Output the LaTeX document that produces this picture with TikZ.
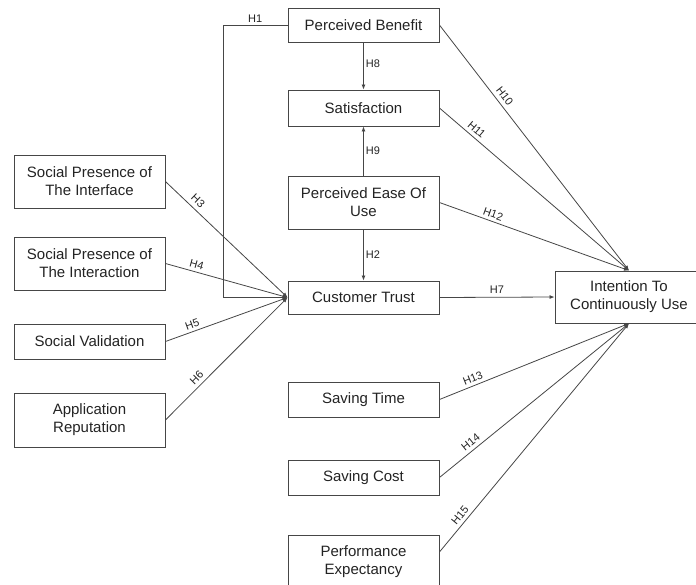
\documentclass[tikz,border=0pt]{standalone}
\usepackage{fontspec}
\setmainfont{Liberation Sans}
\usetikzlibrary{arrows.meta}

\definecolor{linegray}{RGB}{70,70,70}
\definecolor{textgray}{RGB}{35,35,35}

\tikzset{
    box/.style={draw=linegray, rectangle, line width=0.9pt, minimum width=151pt,
        inner sep=0pt, align=center, text=textgray,
        font=\fontsize{15}{18}\selectfont},
    hyp/.style={draw=linegray, line width=0.8pt, -{Latex[length=5pt,width=4pt]}},
    lbl/.style={text=textgray, font=\fontsize{11}{12}\selectfont, inner sep=2pt}
}

\begin{document}
\begin{tikzpicture}[x=1pt, y=-1pt]
    \useasboundingbox (0,0) rectangle (696,584);

    % Middle column
    \node[box, minimum height=34pt] (benefit) at (363.5,25) {Perceived Benefit};
    \node[box, minimum height=36pt] (satisf) at (363.5,108) {Satisfaction};
    \node[box, minimum height=53pt] (ease) at (363.5,202.5) {Perceived Ease Of\\ Use};
    \node[box, minimum height=33pt] (trust) at (363.5,297.5) {Customer Trust};
    \node[box, minimum height=35pt] (time) at (363.5,399.5) {Saving Time};
    \node[box, minimum height=35pt] (cost) at (363.5,477.5) {Saving Cost};
    \node[box, minimum height=54pt] (perf) at (363.5,562) {Performance\\ Expectancy};

    % Left column
    \node[box, minimum height=53pt] (face) at (89.5,181.5) {Social Presence of\\ The Interface};
    \node[box, minimum height=53pt] (action) at (89.5,263.5) {Social Presence of\\ The Interaction};
    \node[box, minimum height=35pt] (valid) at (89.5,341.5) {Social Validation};
    \node[box, minimum height=54pt] (reput) at (89.5,420) {Application\\ Reputation};

    % Outcome
    \node[box, minimum width=148pt, minimum height=52pt] (intent) at (629,297) {Intention To\\ Continuously Use};

    % Hypotheses towards trust
    \coordinate (bend) at (223,25);
    \draw[hyp] (benefit.west) -- node[lbl, above, pos=0.5] {H1} (bend) |- (trust.west);
    \draw[hyp] (face.east) -- node[lbl, sloped, above=2pt, pos=0.22] {H3} (trust.west);
    \draw[hyp] (action.east) -- node[lbl, sloped, above=1pt, pos=0.24] {H4} (trust.west);
    \draw[hyp] (valid.east) -- node[lbl, sloped, above=1pt, pos=0.24] {H5} (trust.west);
    \draw[hyp] (reput.east) -- node[lbl, sloped, above=1.5pt, pos=0.3] {H6} (trust.west);
    \draw[hyp] (ease.south) -- node[lbl, right, pos=0.5] {H2} (trust.north);

    % Vertical links
    \draw[hyp] (benefit.south) -- node[lbl, right, pos=0.45] {H8} (satisf.north);
    \draw[hyp] (ease.north) -- node[lbl, right, pos=0.5] {H9} (satisf.south);

    % Hypotheses towards intention
    \draw[hyp] (trust.east) -- node[lbl, above=1pt] {H7} (intent.west);
    \draw[hyp] (benefit.east) -- node[lbl, sloped, above=2pt, pos=0.31] {H10} (intent.north);
    \draw[hyp] (satisf.east) -- node[lbl, sloped, above=1.5pt, pos=0.17] {H11} (intent.north);
    \draw[hyp] (ease.east) -- node[lbl, sloped, above=1pt, pos=0.27] {H12} (intent.north);
    \draw[hyp] (time.east) -- node[lbl, sloped, above=1pt, pos=0.19] {H13} (intent.south);
    \draw[hyp] (cost.east) -- node[lbl, sloped, above=1.5pt, pos=0.19] {H14} (intent.south);
    \draw[hyp] ([yshift=10pt]perf.east) -- node[lbl, sloped, above=1.5pt, pos=0.14] {H15} (intent.south);
\end{tikzpicture}
\end{document}
